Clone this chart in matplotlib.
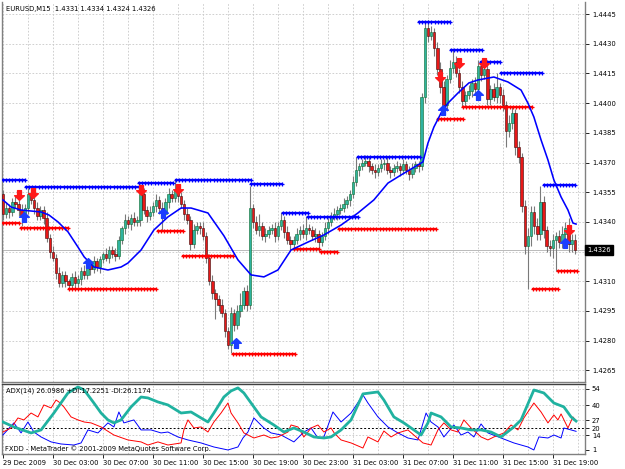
import matplotlib
matplotlib.use('Agg')
import matplotlib.pyplot as plt
import numpy as np
from matplotlib.path import Path

BASE = 1.4300
PIP = 0.0001

# EURUSD M15, one close per bar from 29 Dec 23:00 (pips above 1.4300)
first_open = 54
close_pips = [
    44, 47, 45, 50, 49, 46, 43, 47, 54, 51,
    47, 43, 46, 42, 32, 25, 22, 14, 9, 13,
    10, 8, 12, 9, 11, 15, 13, 18, 16, 20,
    17, 21, 24, 22, 26, 24, 23, 31, 37, 41,
    39, 42, 40, 41, 54, 46, 43, 45, 48, 51,
    47, 44, 50, 54, 52, 56, 53, 49, 44, 41,
    29, 36, 38, 37, 33, 22, 10, 4, 1, -2,
    -6, -15, -22, -6, -12, -5, -2, 5, -2, 47,
    40, 36, 38, 33, 34, 36, 37, 33, 38, 41,
    35, 31, 29, 31, 34, 36, 34, 37, 36, 33,
    34, 30, 33, 37, 40, 43, 44, 46, 47, 49,
    51, 54, 60, 66, 68, 70, 71, 68, 66, 65,
    67, 69, 70, 66, 65, 67, 68, 66, 69, 66,
    64, 67, 69, 68, 103, 138, 134, 136, 128, 117,
    108, 99, 112, 118, 121, 115, 108, 101, 104, 106,
    110, 107, 119, 114, 117, 102, 107, 103, 108, 104,
    99, 86, 90, 95, 78, 73, 48, 28, 33, 45,
    38, 34, 50, 36, 28, 27, 31, 33, 30, 34,
    37, 29, 31, 26,
]
hi_ext = [
    2, 3, 2, 2, 3, 2, 3, 2, 3, 2,
    2, 3, 2, 2, 3, 2, 3, 2, 3, 2,
    2, 1, 2, 3, 2, 2, 3, 1, 2, 3,
    2, 2, 1, 3, 2, 2, 3, 2, 1, 3,
    2, 2, 3, 2, 5, 3, 2, 3, 2, 3,
    2, 3, 2, 3, 2, 5, 3, 2, 2, 3,
    2, 3, 2, 2, 3, 2, 2, 3, 2, 2,
    3, 2, 2, 3, 2, 3, 6, 2, 3, 11,
    2, 3, 6, 2, 3, 2, 2, 3, 2, 4,
    2, 3, 2, 2, 3, 2, 3, 6, 2, 2,
    3, 2, 2, 3, 2, 2, 3, 2, 2, 3,
    2, 2, 3, 7, 2, 2, 3, 2, 2, 3,
    2, 3, 2, 3, 2, 2, 3, 2, 3, 2,
    2, 3, 2, 2, 2, 3, 4, 3, 2, 3,
    4, 3, 2, 4, 6, 3, 2, 3, 2, 3,
    2, 3, 3, 2, 2, 3, 2, 3, 7, 2,
    3, 2, 4, 3, 2, 3, 2, 3, 4, 3,
    3, 4, 8, 3, 2, 3, 3, 2, 3, 4,
    3, 5, 3, 3,
]
lo_ext = [
    3, 2, 3, 2, 2, 3, 5, 2, 3, 2,
    3, 2, 2, 3, 2, 3, 2, 3, 2, 2,
    3, 2, 2, 3, 2, 3, 2, 2, 3, 2,
    2, 3, 2, 2, 3, 2, 3, 2, 2, 3,
    2, 3, 2, 2, 3, 2, 3, 2, 2, 3,
    3, 8, 2, 3, 2, 2, 3, 2, 3, 2,
    3, 2, 2, 3, 2, 3, 2, 3, 10, 3,
    2, 3, 2, 4, 3, 2, 3, 2, 3, 2,
    3, 2, 3, 2, 3, 2, 2, 3, 2, 2,
    3, 2, 3, 2, 2, 3, 2, 3, 2, 2,
    3, 5, 2, 2, 3, 2, 2, 3, 2, 2,
    2, 3, 2, 2, 3, 2, 2, 3, 2, 3,
    2, 2, 3, 2, 3, 2, 2, 3, 2, 2,
    3, 2, 2, 3, 2, 3, 3, 2, 4, 3,
    3, 4, 3, 2, 3, 2, 3, 3, 3, 2,
    3, 2, 3, 3, 2, 3, 3, 2, 3, 4,
    3, 8, 3, 3, 4, 3, 3, 4, 22, 5,
    4, 3, 3, 4, 3, 4, 5, 16, 3, 3,
    3, 4, 4, 2,
]

# smoothed blue line (bar index, pips)
ma_idx = [0, 2.6, 5.8, 12.2, 14.7, 17.6, 20.8, 24, 26, 29.1, 33.6, 37.8, 40, 44.2,
          48.3, 52.8, 57, 60.2, 65.6, 70.7, 75.2, 79.4, 83.5, 88, 92.2, 97.6, 102.7,
          108.2, 113.6, 118.7, 123.2, 127.4, 134.4, 136, 137.9, 140.2, 142.4, 145.6,
          149.1, 152, 157.1, 161.6, 165.8, 168, 169.9, 172.2, 174.4, 176.3, 178.6,
          180.8, 182.4, 183.4]
ma_pips = [51.1, 47.5, 46, 45, 43.5, 40, 35, 27.3, 22.3, 17.2, 15.7, 17.2, 19.2, 25.8,
           35.9, 42.5, 47, 47, 44.5, 33, 20.8, 13.2, 12.2, 15.7, 25.8, 29.8, 33.4,
           38.4, 44.5, 51.1, 59.6, 63.7, 70.3, 79.8, 87.9, 95, 100, 105.1,
           110.2, 111.7, 113.2, 110.7, 106.6, 100, 93, 81.4, 71.3, 61.2, 52.6,
           46, 39.4, 38.9]

# resistance (blue) and support (red) levels: start bar, end bar, pips
res_start = [0, 7.4, 43.5, 55.4, 79.4, 89.6, 97.6, 113.6, 133.1, 143.4, 153, 159.4, 173.1]
res_end = [7.4, 43.5, 55.4, 79.4, 89.6, 97.6, 113.9, 134.4, 143.4, 153.5, 159.4, 173.1, 184]
res_pips = [61, 57.6, 59.6, 61.2, 59.1, 44.7, 42.7, 72.8, 141, 126.8, 120.8, 115.2, 58.6]
sup_start = [0, 5.8, 21.1, 49.6, 57.6, 73.6, 93.1, 101.8, 107.5, 139.2, 147.2, 169.6, 177.6]
sup_end = [5.8, 21.1, 49.6, 57.6, 73.6, 93.8, 101.8, 107.5, 139.2, 147.5, 169.6, 177.6, 184]
sup_pips = [39.3, 37, 6.1, 35.4, 22.8, -27, 26.3, 25, 36.4, 92, 98, 6.1, 15.2]

# arrows (bar index, pips)
down_idx = [5.2, 9.6, 44.2, 56, 139.8, 146, 154, 181.1]
down_pips = [53.6, 54.6, 56.1, 56.6, 113.2, 120.3, 120.3, 36]
up_idx = [6.7, 27.2, 51.2, 74.6, 140.8, 152, 179.8]
up_pips = [42.5, 19.2, 44.5, -21.2, 96.5, 104.1, 29.3]

# ADX(14) panel
adx_idx = [0, 3.5, 9, 12.2, 16.3, 20.8, 24, 26, 29.1, 31.4, 33.6, 35.5, 37.8, 41, 44.2,
           46.4, 49.6, 52.8, 57, 60.2, 63.4, 65.6, 67.5, 70.7, 73, 75.2, 77.1, 79.4,
           82.6, 86.7, 89.9, 93.1, 96.3, 99.5, 102.7, 105, 108.2, 111.4, 115.2, 120,
           121.9, 125.1, 128.3, 131.5, 133.8, 136, 137, 140.2, 143.4, 146.6, 149.8,
           153, 156.2, 159.4, 163.5, 165.8, 169.9, 173.1, 176.3, 179.5, 181.8, 183.4]
adx_val = [25.3, 21, 15.8, 18.4, 33.1, 50.5, 55.7, 53.1, 41.8, 33.1, 27.1, 24.5, 27.1, 38.4, 47,
           46.2, 42.7, 40.1, 33.1, 34, 28.8, 25.3, 33.1, 47, 52.3, 54.9, 50.5, 41.8,
           29.7, 22.7, 16.6, 20.1, 16.6, 12.3, 11.4, 12.3, 18.4, 27.1, 49.7, 51.4,
           44.4, 29.7, 24.5, 18.4, 14, 24.5, 33.1, 29.7, 21, 20.1, 18.4,
           18.4, 16.6, 12.3, 21, 27.1, 53.1, 50.5, 41.8, 38.4, 29.7, 26.1]
pdi_idx = [0, 3.5, 5.8, 8, 9.9, 12.2, 15.4, 18.6, 22.7, 25, 27.2, 30.4, 33.6, 35.5, 37.1,
           38.7, 41.9, 44.2, 47.4, 50.6, 52.8, 56, 59.2, 63.4, 67.5, 72, 75.2, 76.8,
           78.4, 80.3, 83.5, 85.8, 89, 93.1, 96.3, 98.6, 100.8, 102.7, 105.6, 108.2,
           111.4, 115.2, 116.8, 120, 123.2, 126.4, 129.6, 132.8, 135.4, 137, 139.2,
           141.1, 144.3, 146.6, 148.8, 150.7, 153, 155.2, 159.4, 163.5, 168, 169.9,
           171.5, 174.4, 176.3, 178.6, 179.5, 181.8, 183.4]
pdi_val = [14, 24.5, 15.8, 25.3, 16.6, 12.3, 8, 6.2, 5.3, 7.1, 18.4, 15.8, 24.5, 21, 34,
           24.5, 27.1, 18.4, 18.4, 15.8, 16.6, 12.3, 9.7, 7.1, 3.6, 1, 3.6, 11.4,
           16.6, 28.8, 20.1, 15.8, 14, 8, 16.6, 20.1, 11.4, 12.3, 34, 25.3,
           33.1, 48.8, 41.8, 29.7, 21, 15.8, 11.4, 9.7, 33.1, 25.3, 21,
           12.3, 22.7, 14, 16.6, 12.3, 23.6, 15.8, 11.4, 7.1, 3.6, 1,
           12.3, 11.4, 14, 11.4, 20.1, 18.4, 17.2]
mdi_idx = [0, 2.6, 4.8, 6.7, 9, 11.2, 13.1, 15.4, 17, 17.9, 19.5, 21.8, 24, 26, 28.2,
           31.4, 35.5, 40, 44.2, 46.4, 49.6, 52.8, 57, 57.9, 59.2, 61.1, 63.4, 65.6,
           67.5, 69.8, 72, 73, 75.2, 77.1, 80.3, 83.5, 85.8, 88, 91.2, 92.2, 94.4,
           96.3, 98.6, 100.8, 102.7, 105, 106, 108.2, 111.4, 115.2, 116.8, 120, 121.9,
           124.2, 126.4, 129.6, 132.2, 134.4, 137, 139.2, 141.1, 143.4, 145.6, 147.5,
           149.8, 153, 155.2, 157.1, 160.3, 162.6, 164.8, 166.7, 169.9, 172.2, 174.4,
           176.3, 177.6, 178.6, 180.8, 182.4, 183.4]
mdi_val = [16.6, 20.1, 28.8, 27.1, 33.1, 29.7, 40.1, 37.5, 44.4, 42.7, 38.4, 29.7, 27.1, 25.3, 24.5,
           21, 14, 9.7, 8, 5.3, 8, 5.3, 7.1, 18.4, 27.1, 20.1, 21, 16.6,
           25.3, 33.1, 41.8, 33.1, 24.5, 15.8, 11.4, 14, 11.4, 12.3, 16.6, 22.7, 21,
           12.3, 20.1, 22.7, 16.6, 20.1, 15.8, 9.7, 7.1, 2.7, 12.3, 8, 17.5,
           12.3, 15.8, 18.4, 12.3, 7.1, 5.3, 18.4, 24.5, 18.4, 16.6, 27.1,
           20.1, 12.3, 9.7, 12.3, 15.8, 22.7, 18.4, 28.8, 41.8, 34, 24.5,
           31.4, 27.1, 32.3, 20.1, 29.7, 26.1]

price_ticks = [1.4265, 1.4280, 1.4295, 1.4310, 1.4340, 1.4355, 1.4370, 1.4385,
               1.4400, 1.4415, 1.4430, 1.4445]
adx_ticks = [1, 14, 20, 27, 40, 54]
time_labels = ['29 Dec 2009', '30 Dec 03:00', '30 Dec 07:00', '30 Dec 11:00',
               '30 Dec 15:00', '30 Dec 19:00', '30 Dec 23:00', '31 Dec 03:00',
               '31 Dec 07:00', '31 Dec 11:00', '31 Dec 15:00', '31 Dec 19:00']
last_price = 1.4326

plt.rcParams['font.family'] = ['DejaVu Sans']
FS = 4.9

close = BASE + np.array(close_pips) * PIP
open_ = np.concatenate([[BASE + first_open * PIP], close[:-1]])
high = np.maximum(open_, close) + np.array(hi_ext) * PIP
low = np.minimum(open_, close) - np.array(lo_ext) * PIP
idx = np.arange(len(close))
bull = close >= open_

W, H = 625, 469
fig = plt.figure(figsize=(W / 100, H / 100), dpi=100)
fig.patch.set_facecolor('white')


def px_axes(x0, y0, x1, y1):
    return fig.add_axes([x0 / W, 1 - y1 / H, (x1 - x0) / W, (y1 - y0) / H])


ax = px_axes(2, 2, 585, 382)
ax2 = px_axes(2, 384, 585, 454)
xmin, xmax = -0.3, 583 / 3.125 - 0.3

grid_kw = dict(color='#c8c8c8', lw=0.6, ls=(0, (2, 2)), zorder=0)
for a in (ax, ax2):
    a.set_xlim(xmin, xmax)
    for g in range(0, 186, 8):
        a.axvline(g, **grid_kw)
    for s in a.spines.values():
        s.set_color('#808080')
        s.set_linewidth(1)
    a.spines['top'].set_visible(False)
    a.yaxis.tick_right()
    a.tick_params(axis='y', length=3, width=0.6, pad=2, labelsize=FS, colors='black')

# ---- main price panel
ax.set_ylim(1.42591, 1.44511)
for p in price_ticks + [1.4325]:
    ax.axhline(p, **grid_kw)
ax.axhline(last_price, color='#b0b0b0', lw=0.6, zorder=0)
ax.set_yticks(price_ticks)
ax.set_yticklabels([f'{p:.4f}' for p in price_ticks])
ax.set_xticks([])

ax.vlines(idx, low, high, color='#7a7a7a', lw=0.8, zorder=2)
body_lo = np.minimum(open_, close)
body_h = np.maximum(np.abs(close - open_), 0.00003)
ax.bar(idx[bull], body_h[bull], bottom=body_lo[bull], width=0.8,
       color='#2fb3a0', edgecolor='#0b6b2b', linewidth=0.4, zorder=3)
ax.bar(idx[~bull], body_h[~bull], bottom=body_lo[~bull], width=0.8,
       color='#e81818', edgecolor='#3a0a0a', linewidth=0.4, zorder=3)

for s, e, p in zip(res_start, res_end, res_pips):
    xs = np.arange(s, e + 0.01, 1.0)
    ax.plot(xs, np.full(len(xs), BASE + p * PIP), color='#0000ff', lw=1.6,
            marker='+', ms=3.5, mew=0.9, zorder=4)
for s, e, p in zip(sup_start, sup_end, sup_pips):
    xs = np.arange(s, e + 0.01, 1.0)
    ax.plot(xs, np.full(len(xs), BASE + p * PIP), color='#ff0000', lw=1.6,
            marker='+', ms=3.5, mew=0.9, zorder=4)

ax.plot(ma_idx, BASE + np.array(ma_pips) * PIP, color='#0000ff', lw=1.15, zorder=5)

up_verts = [(0, 1), (-1, 0.05), (-0.4, 0.05), (-0.4, -1), (0.4, -1), (0.4, 0.05), (1, 0.05), (0, 1)]
codes = [Path.MOVETO] + [Path.LINETO] * 6 + [Path.CLOSEPOLY]
up_arrow = Path(up_verts, codes)
down_arrow = Path([(x, -y) for x, y in up_verts], codes)
ax.plot(up_idx, BASE + np.array(up_pips) * PIP, ls='none', marker=up_arrow,
        ms=7, color='#1a3cff', mec='#1a3cff', zorder=6)
ax.plot(down_idx, BASE + np.array(down_pips) * PIP, ls='none', marker=down_arrow,
        ms=7, color='#ff1a1a', mec='#ff1a1a', zorder=6)

ax.text(1.004, last_price, f'{last_price:.4f}', transform=ax.get_yaxis_transform(),
        color='white', fontsize=FS, va='center', ha='left', zorder=10, clip_on=False,
        bbox=dict(boxstyle='square,pad=0.3', fc='black', ec='black'))

# ---- ADX panel
ax2.set_ylim(-2.5, 58.3)
for v in (54, 40, 27, 14):
    ax2.axhline(v, **grid_kw)
ax2.axhline(20, color='black', lw=0.7, ls=(0, (2, 2)), zorder=1)
ax2.plot(pdi_idx, pdi_val, color='#0000ff', lw=0.7, zorder=3)
ax2.plot(mdi_idx, mdi_val, color='#ff0000', lw=0.7, zorder=3)
ax2.plot(adx_idx, adx_val, color='#20b2a0', lw=2.0, zorder=4)
ax2.set_yticks(adx_ticks)
ax2.set_yticklabels([str(v) for v in adx_ticks])
ax2.spines['top'].set_visible(True)
ax2.spines['top'].set_color('#404040')
ax2.set_xticks(np.arange(0, 177, 16))
ax2.set_xticklabels(time_labels, ha='left', fontsize=FS)
ax2.tick_params(axis='x', length=3, width=0.6, pad=1.5, colors='black')

fig.text(6 / W, 1 - 9 / H, 'EURUSD,M15  1.4331 1.4334 1.4324 1.4326',
         fontsize=FS, va='center', ha='left')
fig.text(6 / W, 1 - 391 / H, 'ADX(14) 26.0986 +DI:17.2251 -DI:26.1174',
         fontsize=FS, va='center', ha='left')
fig.text(5 / W, 1 - 449 / H, 'FXDD - MetaTrader \u00a9 2001-2009 MetaQuotes Software Corp.',
         fontsize=FS, va='center', ha='left')

fig.savefig('out.png', dpi=100)
